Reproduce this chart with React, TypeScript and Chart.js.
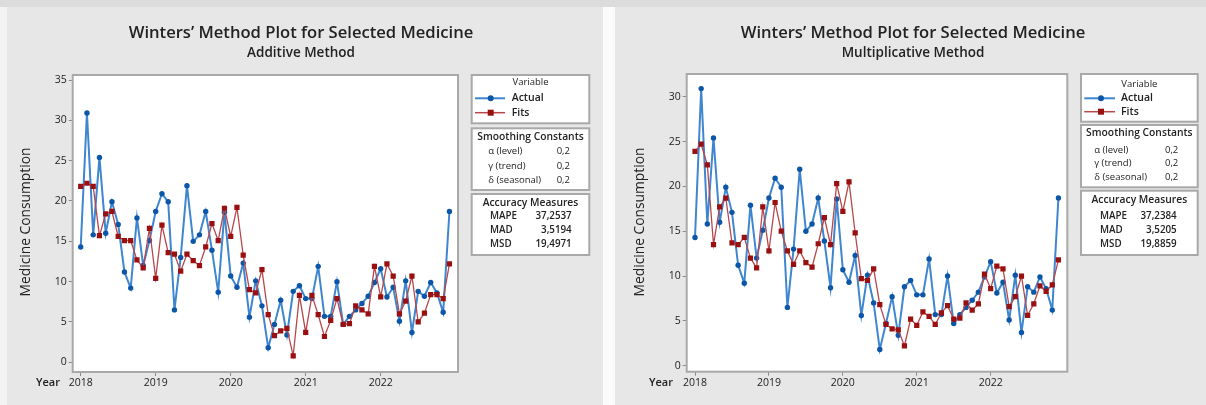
import React, { useEffect, useRef } from 'react';
import { Chart, registerables } from 'chart.js';

Chart.register(...registerables);

// ---------- data ----------
const yearLabels = ['2018', '2019', '2020', '2021', '2022'];
const yearTickIndex = [0, 12, 24, 36, 48];

const actual = [
  14.3, 30.9, 15.8, 25.4, 16.0, 19.9, 17.1, 11.2, 9.2, 17.9, 12.0, 15.1,
  18.7, 20.9, 19.9, 6.5, 13.0, 21.9, 15.0, 15.8, 18.7, 13.9, 8.7, 18.6,
  10.7, 9.3, 12.3, 5.6, 10.1, 7.0, 1.8, 4.7, 7.7, 3.4, 8.8, 9.5,
  7.9, 7.9, 11.9, 5.7, 5.7, 10.0, 4.7, 5.7, 6.5, 7.3, 8.2, 9.9,
  11.6, 8.1, 9.3, 5.1, 10.1, 3.7, 8.8, 8.2, 9.9, 8.6, 6.2, 18.7,
];

const fitsAdditive = [
  21.8, 22.2, 21.8, 15.7, 18.4, 18.7, 15.6, 15.1, 15.1, 12.7, 11.7, 16.6,
  10.4, 17.0, 13.6, 13.4, 11.3, 13.4, 12.6, 12.0, 14.3, 17.2, 15.1, 19.1,
  15.6, 19.2, 13.3, 9.0, 8.6, 11.5, 5.9, 3.3, 3.9, 4.2, 0.8, 8.3,
  3.7, 8.3, 5.9, 3.2, 5.2, 7.9, 4.7, 4.8, 7.0, 6.5, 6.0, 11.9,
  8.1, 12.2, 10.7, 6.0, 7.6, 10.7, 5.0, 6.1, 8.4, 8.4, 7.9, 12.2,
];

const fitsMultiplicative = [
  23.9, 24.7, 22.4, 13.5, 17.7, 18.7, 13.7, 13.5, 14.3, 12.0, 10.9, 17.7,
  12.8, 18.2, 15.0, 12.8, 11.3, 12.8, 11.5, 11.0, 13.6, 16.5, 13.5, 20.3,
  17.2, 20.5, 14.8, 9.7, 9.5, 10.8, 6.8, 4.6, 4.1, 4.0, 2.2, 5.2,
  4.5, 6.0, 5.5, 4.6, 5.9, 6.7, 5.2, 5.3, 7.0, 6.2, 6.9, 10.2,
  8.6, 11.1, 10.8, 6.6, 7.7, 10.0, 5.6, 6.9, 8.9, 8.3, 9.0, 11.8,
];

const yTicksAdditive = [0, 5, 10, 15, 20, 25, 30, 35];
const yTicksMultiplicative = [0, 5, 10, 15, 20, 25, 30];

const smoothingLabels = ['α (level)', 'γ (trend)', 'δ (seasonal)'];
const smoothingValues = ['0,2', '0,2', '0,2'];
const accuracyLabels = ['MAPE', 'MAD', 'MSD'];
const accuracyAdditive = ['37,2537', '3,5194', '19,4971'];
const accuracyMultiplicative = ['37,2384', '3,5205', '19,8859'];

const mainTitle = 'Winters\u2019 Method Plot for Selected Medicine';
const yAxisTitle = 'Medicine Consumption';
const xAxisTitle = 'Year';
const seriesNames = ['Actual', 'Fits'];

// ---------- layout / style ----------
const FONT = '"Open Sans", "Noto Sans", sans-serif';
const BLUE_LINE = '#3f86d0';
const BLUE_PT = '#0c56a8';
const RED_LINE = '#b8474b';
const RED_PT = '#9a1010';
const FRAME = '#a9a9a9';
const TEXT = '#222222';

const panels = [
  {
    left: 0,
    width: 603,
    subtitle: 'Additive Method',
    fits: fitsAdditive,
    yTicks: yTicksAdditive,
    accuracy: accuracyAdditive,
    plot: { l: 72.7, r: 458, t: 75, b: 372 },
    xMin: -1.28, xMax: 60.37, yMin: -1.2, yMax: 35.62,
    titleX: 301, yTitleX: 26, yearX: 48,
    lg: {
      x1: 471.7, x2: 589.3,
      varBox: [75, 123.3], varTitleY: 82.7, rowY: [98.3, 112.7],
      lineX: [475, 505], markX: 490.7, textX: 511.7,
      smBox: [128.3, 190], smTitleY: 137.3, smRows: [151, 166, 180], smLabelX: 488.3, smValX: 570,
      acBox: [194, 255], acTitleY: 203.3, acRows: [216.7, 230.7, 244], acLabelX: 490, acValX: 571.7,
    },
  },
  {
    left: 603,
    width: 603,
    subtitle: 'Multiplicative Method',
    fits: fitsMultiplicative,
    yTicks: yTicksMultiplicative,
    accuracy: accuracyMultiplicative,
    plot: { l: 83.7, r: 464.3, t: 74, b: 371.7 },
    xMin: -1.35, xMax: 60.44, yMin: -0.67, yMax: 32.53,
    titleX: 310, yTitleX: 37, yearX: 58,
    lg: {
      x1: 478, x2: 594.7,
      varBox: [74, 121.7], varTitleY: 84, rowY: [98.3, 111.7],
      lineX: [481.3, 512], markX: 498, textX: 518,
      smBox: [125, 187.3], smTitleY: 133.3, smRows: [150, 163.3, 177.3], smLabelX: 491.3, smValX: 575.3,
      acBox: [190.7, 255], acTitleY: 200, acRows: [216.7, 230.7, 244], acLabelX: 497, acValX: 573.7,
    },
  },
];

const Y_AXIS_W = 40;
const X_AXIS_H = 22;

function drawBox(ctx: CanvasRenderingContext2D, x1: number, y1: number, x2: number, y2: number) {
  ctx.fillStyle = '#ffffff';
  ctx.fillRect(x1, y1, x2 - x1, y2 - y1);
  ctx.lineWidth = 2;
  ctx.strokeStyle = FRAME;
  ctx.strokeRect(x1, y1, x2 - x1, y2 - y1);
}

function makeDecor(p: any) {
  return {
    id: 'decor',
    beforeDatasetsDraw(chart: any) {
      const ctx = chart.ctx as CanvasRenderingContext2D;
      const a = chart.chartArea;
      ctx.save();
      ctx.fillStyle = '#ffffff';
      ctx.fillRect(a.left, a.top, a.right - a.left, a.bottom - a.top);
      ctx.restore();
    },
    afterDraw(chart: any) {
      const ctx = chart.ctx as CanvasRenderingContext2D;
      const a = chart.chartArea;
      ctx.save();
      // plot frame
      ctx.lineWidth = 2;
      ctx.strokeStyle = FRAME;
      ctx.strokeRect(a.left, a.top, a.right - a.left, a.bottom - a.top);

      // titles
      ctx.fillStyle = TEXT;
      ctx.textAlign = 'center';
      ctx.textBaseline = 'middle';
      ctx.font = `600 16.6px ${FONT}`;
      ctx.fillText(mainTitle, p.titleX, 33);
      ctx.font = `600 13.5px ${FONT}`;
      ctx.fillText(p.subtitle, p.titleX, 53);

      // axis titles
      ctx.font = `500 13.8px ${FONT}`;
      ctx.save();
      ctx.translate(p.yTitleX, 222);
      ctx.rotate(-Math.PI / 2);
      ctx.fillText(yAxisTitle, 0, 0);
      ctx.restore();
      ctx.font = `600 11px ${FONT}`;
      ctx.fillText(xAxisTitle, p.yearX, 383);

      // legend boxes
      const lg = p.lg;
      drawBox(ctx, lg.x1, lg.varBox[0], lg.x2, lg.varBox[1]);
      drawBox(ctx, lg.x1, lg.smBox[0], lg.x2, lg.smBox[1]);
      drawBox(ctx, lg.x1, lg.acBox[0], lg.x2, lg.acBox[1]);
      const cx = (lg.x1 + lg.x2) / 2;

      ctx.fillStyle = TEXT;
      ctx.textAlign = 'center';
      ctx.font = `500 9.5px ${FONT}`;
      ctx.fillText('Variable', cx, lg.varTitleY);

      // series keys
      const keyColors = [
        [BLUE_LINE, BLUE_PT, 'circle'],
        [RED_LINE, RED_PT, 'rect'],
      ];
      keyColors.forEach((k, i) => {
        const y = lg.rowY[i];
        ctx.strokeStyle = k[0];
        ctx.lineWidth = i === 0 ? 2 : 1.5;
        ctx.beginPath();
        ctx.moveTo(lg.lineX[0], y);
        ctx.lineTo(lg.lineX[1], y);
        ctx.stroke();
        ctx.fillStyle = k[1];
        if (k[2] === 'circle') {
          ctx.beginPath();
          ctx.arc(lg.markX, y, 3, 0, Math.PI * 2);
          ctx.fill();
        } else {
          ctx.fillRect(lg.markX - 3, y - 3, 6, 6);
        }
        ctx.fillStyle = TEXT;
        ctx.textAlign = 'left';
        ctx.font = `600 10.5px ${FONT}`;
        ctx.fillText(seriesNames[i], lg.textX, y);
      });

      ctx.textAlign = 'center';
      ctx.font = `600 10.3px ${FONT}`;
      ctx.fillText('Smoothing Constants', cx, lg.smTitleY);
      ctx.font = `500 9.5px ${FONT}`;
      smoothingLabels.forEach((t, i) => {
        ctx.textAlign = 'left';
        ctx.fillText(t, lg.smLabelX, lg.smRows[i]);
        ctx.textAlign = 'right';
        ctx.fillText(smoothingValues[i], lg.smValX, lg.smRows[i]);
      });

      ctx.textAlign = 'center';
      ctx.font = `600 10.3px ${FONT}`;
      ctx.fillText('Accuracy Measures', cx, lg.acTitleY);
      ctx.font = `600 9.8px ${FONT}`;
      accuracyLabels.forEach((t, i) => {
        ctx.textAlign = 'left';
        ctx.fillText(t, lg.acLabelX, lg.acRows[i]);
        ctx.textAlign = 'right';
        ctx.fillText(p.accuracy[i], lg.acValX, lg.acRows[i]);
      });
      ctx.restore();
    },
  };
}

function Panel({ p }: { p: any }) {
  const ref = useRef<HTMLCanvasElement | null>(null);
  useEffect(() => {
    if (!ref.current) return;
    const tickFont = { family: FONT, size: 10.5, weight: '500' as any };
    const chart = new Chart(ref.current, {
      type: 'line',
      data: {
        datasets: [
          {
            label: seriesNames[0],
            data: actual.map((v, i) => ({ x: i, y: v })),
            borderColor: BLUE_LINE,
            borderWidth: 2,
            pointStyle: 'circle',
            pointRadius: 2.7,
            pointBackgroundColor: BLUE_PT,
            pointBorderWidth: 0,
            tension: 0,
            order: 2,
          },
          {
            label: seriesNames[1],
            data: p.fits.map((v: number, i: number) => ({ x: i, y: v })),
            borderColor: RED_LINE,
            borderWidth: 1.3,
            pointStyle: 'rect',
            pointRadius: 3.7,
            pointBackgroundColor: RED_PT,
            pointBorderWidth: 0,
            tension: 0,
            order: 1,
          },
        ],
      },
      options: {
        responsive: false,
        animation: false,
        events: [],
        layout: {
          padding: {
            left: p.plot.l - Y_AXIS_W,
            right: p.width - p.plot.r,
            top: p.plot.t,
            bottom: 405 - p.plot.b - X_AXIS_H,
          },
        },
        plugins: {
          legend: { display: false },
          tooltip: { enabled: false },
          title: { display: false },
        },
        scales: {
          x: {
            type: 'linear',
            min: p.xMin,
            max: p.xMax,
            afterBuildTicks: (s: any) => {
              s.ticks = yearTickIndex.map((v) => ({ value: v }));
            },
            afterFit: (s: any) => {
              s.height = X_AXIS_H;
            },
            ticks: {
              autoSkip: false,
              maxRotation: 0,
              padding: 1,
              color: TEXT,
              font: tickFont,
              callback: (v: any) => yearLabels[Math.round(Number(v) / 12)],
            },
            grid: { drawOnChartArea: false, drawTicks: true, tickLength: 4, color: '#8a8a8a' },
            border: { display: false },
          },
          y: {
            type: 'linear',
            min: p.yMin,
            max: p.yMax,
            afterBuildTicks: (s: any) => {
              s.ticks = p.yTicks.map((v: number) => ({ value: v }));
            },
            afterFit: (s: any) => {
              s.width = Y_AXIS_W;
            },
            ticks: { padding: 2, color: TEXT, font: tickFont },
            grid: { drawOnChartArea: false, drawTicks: true, tickLength: 4, color: '#8a8a8a' },
            border: { display: false },
          },
        },
      },
      plugins: [makeDecor(p)],
    } as any);
    return () => chart.destroy();
  }, [p]);
  return (
    <canvas
      ref={ref}
      width={p.width}
      height={405}
      style={{ position: 'absolute', left: p.left, top: 0, width: p.width, height: 405 }}
    />
  );
}

export default function App() {
  return (
    <div style={{ position: 'absolute', left: 0, top: 0, width: 1206, height: 405, overflow: 'hidden', background: '#dcdcdc' }}>
      <div style={{ position: 'absolute', left: 0, top: 7, width: 7, height: 398, background: '#f2f2f2' }} />
      <div style={{ position: 'absolute', left: 7, top: 7, width: 596, height: 398, background: '#e7e7e7' }} />
      <div style={{ position: 'absolute', left: 603, top: 7, width: 12, height: 398, background: '#fbfbfb' }} />
      <div style={{ position: 'absolute', left: 615, top: 7, width: 591, height: 398, background: '#e7e7e7' }} />
      {panels.map((p, i) => (
        <Panel key={i} p={p} />
      ))}
    </div>
  );
}
